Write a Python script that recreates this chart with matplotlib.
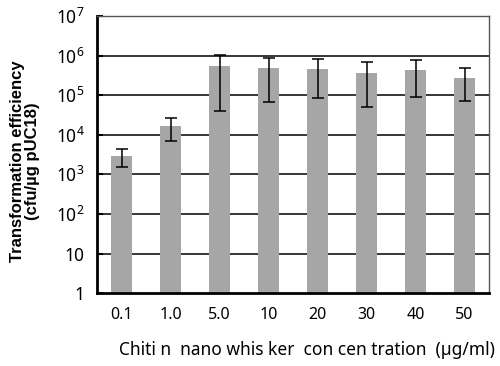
import numpy as np
import matplotlib
matplotlib.use('Agg')
from matplotlib import pyplot as plt

# data
concentrations = ['0.1', '1.0', '5.0', '10', '20', '30', '40', '50']
efficiency = [3.0e3, 1.65e4, 5.4e5, 4.8e5, 4.7e5, 3.7e5, 4.3e5, 2.8e5]
err_low = [1.5e3, 6.9e3, 4.0e4, 6.8e4, 8.3e4, 5.0e4, 9.3e4, 7.2e4]
err_high = [4.3e3, 2.7e4, 1.07e6, 8.9e5, 8.3e5, 7.1e5, 7.8e5, 4.8e5]
ytick_values = [1, 10, 1e2, 1e3, 1e4, 1e5, 1e6, 1e7]
ytick_labels = ['1', '10', '$10^2$', '$10^3$', '$10^4$', '$10^5$', '$10^6$', '$10^7$']

plt.rcParams['font.family'] = ['Noto Sans', 'DejaVu Sans']
plt.rcParams['mathtext.fontset'] = 'custom'
plt.rcParams['mathtext.rm'] = 'Noto Sans'
plt.rcParams['mathtext.it'] = 'Noto Sans'

fig = plt.figure(figsize=(5, 3.66), dpi=100)
ax = fig.add_axes([0.194, 0.199, 0.784, 0.757])

x = np.arange(len(concentrations))
eff = np.array(efficiency)
yerr = [eff - np.array(err_low), np.array(err_high) - eff]

# gridlines behind bars
ax.set_yscale('log')
ax.set_ylim(1, 1e7)
ax.set_xlim(-0.5, len(concentrations) - 0.5)
for v in ytick_values[1:-1]:
    ax.axhline(v, color='black', lw=1.1, zorder=0)

ax.bar(x, eff, width=0.41, color='#a6a6a6', zorder=2)
ax.errorbar(x, eff, yerr=yerr, fmt='none', ecolor='black', elinewidth=1.1,
            capsize=4.5, capthick=1.1, zorder=3)

ax.set_yticks(ytick_values)
ax.set_yticklabels(ytick_labels, fontsize=12.5)
ax.yaxis.set_minor_locator(matplotlib.ticker.NullLocator())
ax.tick_params(axis='y', direction='in', length=4, width=1.5, pad=9)
ax.set_xticks(x)
ax.set_xticklabels(concentrations, fontsize=11.5)
ax.tick_params(axis='x', length=0, pad=10)

for side in ['left', 'bottom']:
    ax.spines[side].set_linewidth(2)
    ax.spines[side].set_color('black')
for side in ['top', 'right']:
    ax.spines[side].set_linewidth(1)
    ax.spines[side].set_color('#555555')

fig.text(0.614, 0.044, 'Chiti n  nano whis ker  con cen tration  (\u00b5g/ml)',
         fontsize=12.5, ha='center', va='center')
fig.text(0.05, 0.56, 'Transformation efficiency\n(cfu/\u00b5g pUC18)', fontsize=12,
         fontweight='bold', family=['Liberation Sans', 'DejaVu Sans'],
         rotation=90, ha='center', va='center', linespacing=1.05)

fig.savefig('out.png', dpi=100)
